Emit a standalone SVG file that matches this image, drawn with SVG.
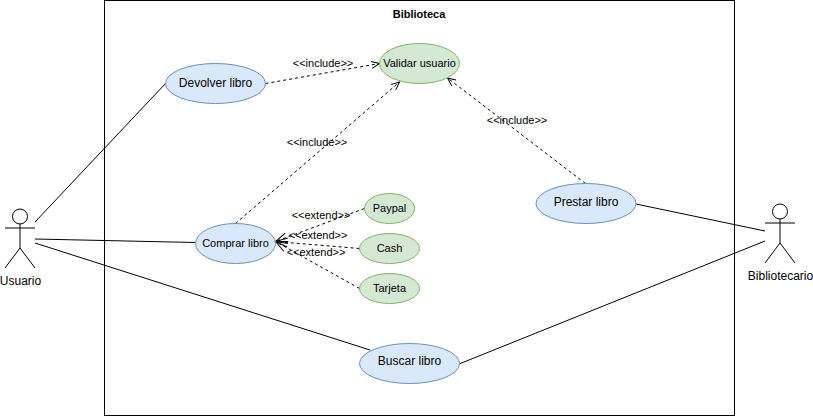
<svg xmlns="http://www.w3.org/2000/svg" width="813" height="416" viewBox="0 0 813 416">
<style>
text{font-family:"Liberation Sans",Arial,sans-serif;fill:#000;text-anchor:middle;opacity:.999}
.t12{font-size:12px}.t11{font-size:11px}
.blue{fill:#dae8fc;stroke:#6c8ebf}
.green{fill:#d5e8d4;stroke:#82b366}
.line{fill:none;stroke:#000}
.dash{fill:none;stroke:#000;stroke-dasharray:3 3}
.head{fill:none;stroke:#000}
.actor{fill:#fff;stroke:#000}
</style>
<defs>
<marker id="open" markerUnits="userSpaceOnUse" viewBox="-10 -5 11 10" refX="0" refY="0" markerWidth="11" markerHeight="10" orient="auto"><path class="head" d="M-8 -3.500L0 0L-8 3.500"/></marker>
<marker id="openBig" markerUnits="userSpaceOnUse" viewBox="-14 -6 15 12" refX="0" refY="0" markerWidth="15" markerHeight="12" orient="auto"><path class="head" d="M-12 -4.500L0 0L-12 4.500"/></marker>
</defs>
<rect width="813" height="416" fill="#fff"/>
<g id="boundary"><rect x="104.500" y="0.500" width="630" height="415" fill="#fff" stroke="#000"/><text x="419" y="18" style="font-weight:bold;font-size:11px">Biblioteca</text></g>
<g id="connectors">
<path class="line" d="M35 222L165.500 83.500M35 239L195.500 242.500M35 243L370 350M636 204L765 231M459 364L765 241"/>
<path class="dash" marker-end="url(#open)" d="M265.500 83.500L379.500 63.500"/>
<path class="dash" marker-end="url(#open)" d="M235.500 223.500L399.500 82"/>
<path class="dash" marker-end="url(#open)" d="M585.500 183.500L447.500 78"/>
<path class="dash" marker-end="url(#openBig)" d="M364.500 208.500L275.500 241.500"/>
<path class="dash" marker-end="url(#openBig)" d="M359.500 248.500L275.500 241.500"/>
<path class="dash" marker-end="url(#openBig)" d="M359.500 288.500L275.500 241.500"/>
<text class="t11" x="323" y="67">&lt;&lt;include&gt;&gt;</text>
<text class="t11" x="317" y="146">&lt;&lt;include&gt;&gt;</text>
<text class="t11" x="517" y="124">&lt;&lt;include&gt;&gt;</text>
<text class="t11" x="321" y="219">&lt;&lt;extend&gt;&gt;</text>
<text class="t11" x="318" y="239">&lt;&lt;extend&gt;&gt;</text>
<text class="t11" x="316" y="256">&lt;&lt;extend&gt;&gt;</text>
</g>
<g id="devolver"><ellipse class="blue" cx="215.500" cy="83.500" rx="50" ry="20"/><text class="t12" x="215.500" y="87">Devolver libro</text></g>
<g id="validar"><ellipse class="green" cx="419.500" cy="63.500" rx="40" ry="20"/><text class="t11" x="419.500" y="67">Validar usuario</text></g>
<g id="prestar"><ellipse class="blue" cx="586" cy="203.500" rx="50" ry="20"/><text class="t12" x="586" y="206">Prestar libro</text></g>
<g id="comprar"><ellipse class="blue" cx="235.500" cy="243.500" rx="40" ry="20"/><text class="t11" x="235.500" y="247">Comprar libro</text></g>
<g id="paypal"><ellipse class="green" cx="389.500" cy="208.500" rx="25" ry="15"/><text class="t11" x="389.500" y="212">Paypal</text></g>
<g id="cash"><ellipse class="green" cx="389.500" cy="248.500" rx="30" ry="15"/><text class="t11" x="389.500" y="252">Cash</text></g>
<g id="tarjeta"><ellipse class="green" cx="389.500" cy="288.500" rx="30" ry="15"/><text class="t11" x="389.500" y="292">Tarjeta</text></g>
<g id="buscar"><ellipse class="blue" cx="409.500" cy="363.500" rx="50" ry="20"/><text class="t12" x="409.500" y="365">Buscar libro</text></g>
<g id="usuario"><circle class="actor" cx="20" cy="216.500" r="7.500"/><path class="line" d="M20 224V248M5 228H35M20 248L5 268M20 248L35 268"/><text class="t12" x="20.500" y="285">Usuario</text></g>
<g id="bibliotecario"><circle class="actor" cx="780" cy="211.500" r="7.500"/><path class="line" d="M780 219V243M765 223H795M780 243L765 263M780 243L795 263"/><text class="t12" x="780.500" y="280">Bibliotecario</text></g>
</svg>
